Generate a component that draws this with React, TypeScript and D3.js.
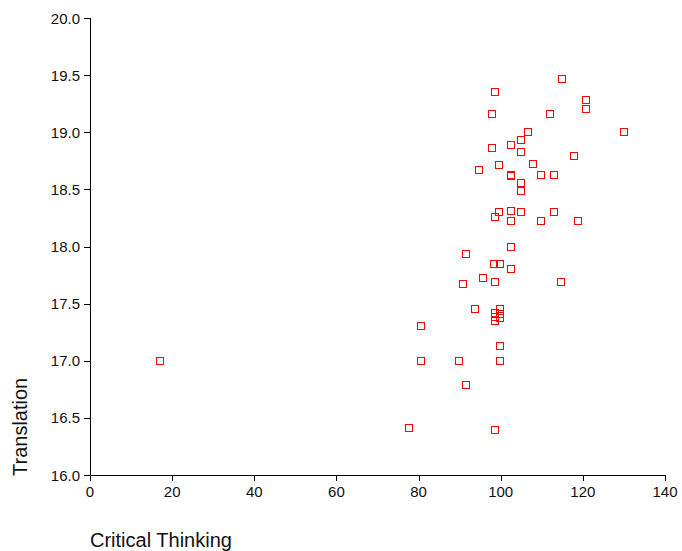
import React from 'react'
import * as d3 from 'd3'

// Critical Thinking (x) vs Translation (y)
const criticalThinking = [
  114.8, 98.5, 120.7, 120.7, 97.8, 111.9, 106.6, 129.9, 104.9, 102.5,
  97.8, 104.9, 117.9, 94.6, 99.7, 102.5, 102.5, 107.9, 109.7, 112.9,
  104.9, 104.9, 99.7, 98.5, 102.5, 104.9, 112.9, 102.5, 109.7, 118.8,
  102.5, 91.6, 98.4, 99.8, 102.5, 95.7, 90.8, 98.5, 114.7, 93.8,
  98.5, 98.5, 98.5, 99.8, 99.8, 99.8, 80.5, 99.8, 80.5, 89.8,
  99.8, 17.1, 91.6, 77.6, 98.5
]
const translation = [
  19.47, 19.35, 19.28, 19.2, 19.16, 19.16, 19.0, 19.0, 18.93, 18.89,
  18.86, 18.83, 18.79, 18.67, 18.71, 18.63, 18.62, 18.72, 18.63, 18.63,
  18.56, 18.49, 18.3, 18.26, 18.31, 18.3, 18.3, 18.22, 18.22, 18.22,
  18.0, 17.93, 17.85, 17.85, 17.8, 17.72, 17.67, 17.69, 17.69, 17.45,
  17.42, 17.38, 17.35, 17.45, 17.41, 17.37, 17.3, 17.13, 17.0, 17.0,
  17.0, 17.0, 16.79, 16.41, 16.39
]

const xTicks = [0, 20, 40, 60, 80, 100, 120, 140]
const yTicks = [16.0, 16.5, 17.0, 17.5, 18.0, 18.5, 19.0, 19.5, 20.0]

const xLabel = 'Critical Thinking'
const yLabel = 'Translation'

const width = 682
const height = 551
const plot = { left: 90, right: 665, top: 18, bottom: 475 }
const font = '"Liberation Sans", Arial, sans-serif'

export default function App() {
  const xScale = d3.scaleLinear().domain([0, 140]).range([plot.left, plot.right])
  const yScale = d3.scaleLinear().domain([16, 20]).range([plot.bottom, plot.top])

  const points = criticalThinking.map((x, i) => ({ x, y: translation[i] }))

  return (
    <svg
      width={width}
      height={height}
      style={{ position: 'absolute', left: 0, top: 0, background: '#fff' }}
    >
      {/* axes */}
      <g stroke="#000" strokeWidth={1} shapeRendering="crispEdges">
        <line x1={plot.left} x2={plot.left} y1={plot.top} y2={plot.bottom} />
        <line x1={plot.left} x2={plot.right} y1={plot.bottom} y2={plot.bottom} />
        {yTicks.map((t) => (
          <line key={'yt' + t} x1={plot.left - 6} x2={plot.left} y1={Math.round(yScale(t))} y2={Math.round(yScale(t))} />
        ))}
        {xTicks.map((t) => (
          <line key={'xt' + t} x1={Math.round(xScale(t))} x2={Math.round(xScale(t))} y1={plot.bottom} y2={plot.bottom + 6} />
        ))}
      </g>

      {/* tick labels */}
      <g fontFamily={font} fontSize={15} fill="#111">
        {yTicks.map((t) => (
          <text key={'yl' + t} x={plot.left - 10} y={yScale(t) + 5.5} textAnchor="end">
            {d3.format('.1f')(t)}
          </text>
        ))}
        {xTicks.map((t) => (
          <text key={'xl' + t} x={xScale(t)} y={plot.bottom + 22} textAnchor="middle">
            {t}
          </text>
        ))}
      </g>

      {/* axis titles */}
      <text
        transform={`translate(27, ${plot.bottom + 1}) rotate(-90)`}
        fontFamily={font}
        fontSize={20}
        fill="#111"
      >
        {yLabel}
      </text>
      <text x={plot.left} y={547} fontFamily={font} fontSize={20} fill="#111">
        {xLabel}
      </text>

      {/* points */}
      <g fill="none" stroke="#ff0000" strokeWidth={1}>
        {points.map((d, i) => (
          <rect
            key={i}
            x={Math.round(xScale(d.x)) - 3.5}
            y={Math.round(yScale(d.y)) - 3.5}
            width={7}
            height={7}
          />
        ))}
      </g>
    </svg>
  )
}
